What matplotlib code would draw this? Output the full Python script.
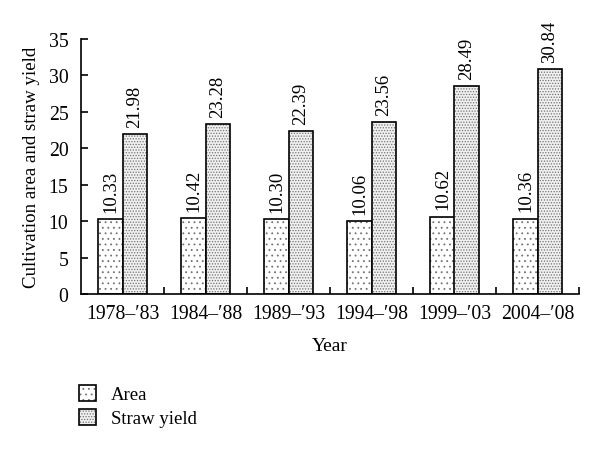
import matplotlib
matplotlib.use("Agg")
import matplotlib.pyplot as plt
import numpy as np

plt.rcParams['font.family'] = ['Liberation Serif', 'DejaVu Serif']
plt.rcParams['hatch.linewidth'] = 0.6

periods = ["1978–′83", "1984–′88", "1989–′93", "1994–′98", "1999–′03", "2004–′08"]
area = [10.33, 10.42, 10.30, 10.06, 10.62, 10.36]
straw = [21.98, 23.28, 22.39, 23.56, 28.49, 30.84]

fig = plt.figure(figsize=(6.0, 4.52), dpi=100)
ax = fig.add_axes([0.135, 0.347, 0.83, 0.5645])

x = np.arange(len(periods))
w = 0.29
b1 = ax.bar(x - w/2, area, w, facecolor='white', edgecolor='black', linewidth=1.2,
            hatch='...', label='Area')
b2 = ax.bar(x + w/2, straw, w, facecolor='#f0f0f0', edgecolor='black', linewidth=1.2,
            hatch='......', label='Straw yield')
for bars in (b1, b2):
    for p in bars:
        p._hatch_color = (0.45, 0.45, 0.45, 1)

for xi, v in zip(x - w/2, area):
    ax.text(xi, v + 1.0, f"{v:.2f}", rotation=90, ha='center', va='bottom', fontsize=13.5)
for xi, v in zip(x + w/2, straw):
    ax.text(xi, v + 1.0, f"{v:.2f}", rotation=90, ha='center', va='bottom', fontsize=13.5)

ax.set_xlim(-0.5, 5.5)
ax.set_ylim(0, 35)
ax.set_yticks(range(0, 36, 5))
ax.set_xticks(x)
ax.set_xticklabels(periods)
ax.set_xticks(np.arange(0.5, 6, 1.0), minor=True)
ax.tick_params(axis='x', which='major', length=0, labelsize=14.2, pad=7)
ax.tick_params(axis='x', which='minor', direction='in', length=5, width=1.2)
ax.tick_params(axis='y', direction='in', length=5, width=1.2, labelsize=14.2, pad=9)
for s in ('top', 'right'):
    ax.spines[s].set_visible(False)
for s in ('left', 'bottom'):
    ax.spines[s].set_linewidth(1.2)

ax.set_xlabel("Year", fontsize=14, labelpad=10)
ax.set_ylabel("Cultivation area and straw yield", fontsize=13.6, labelpad=6)

fig.legend(handles=[b1, b2], labels=['Area', 'Straw yield'], loc='upper left',
           bbox_to_anchor=(0.103, 0.183), frameon=False, fontsize=13.5,
           handlelength=0.9, handleheight=0.9, handletextpad=0.8, labelspacing=0.3)

fig.savefig("out.png", dpi=100)
